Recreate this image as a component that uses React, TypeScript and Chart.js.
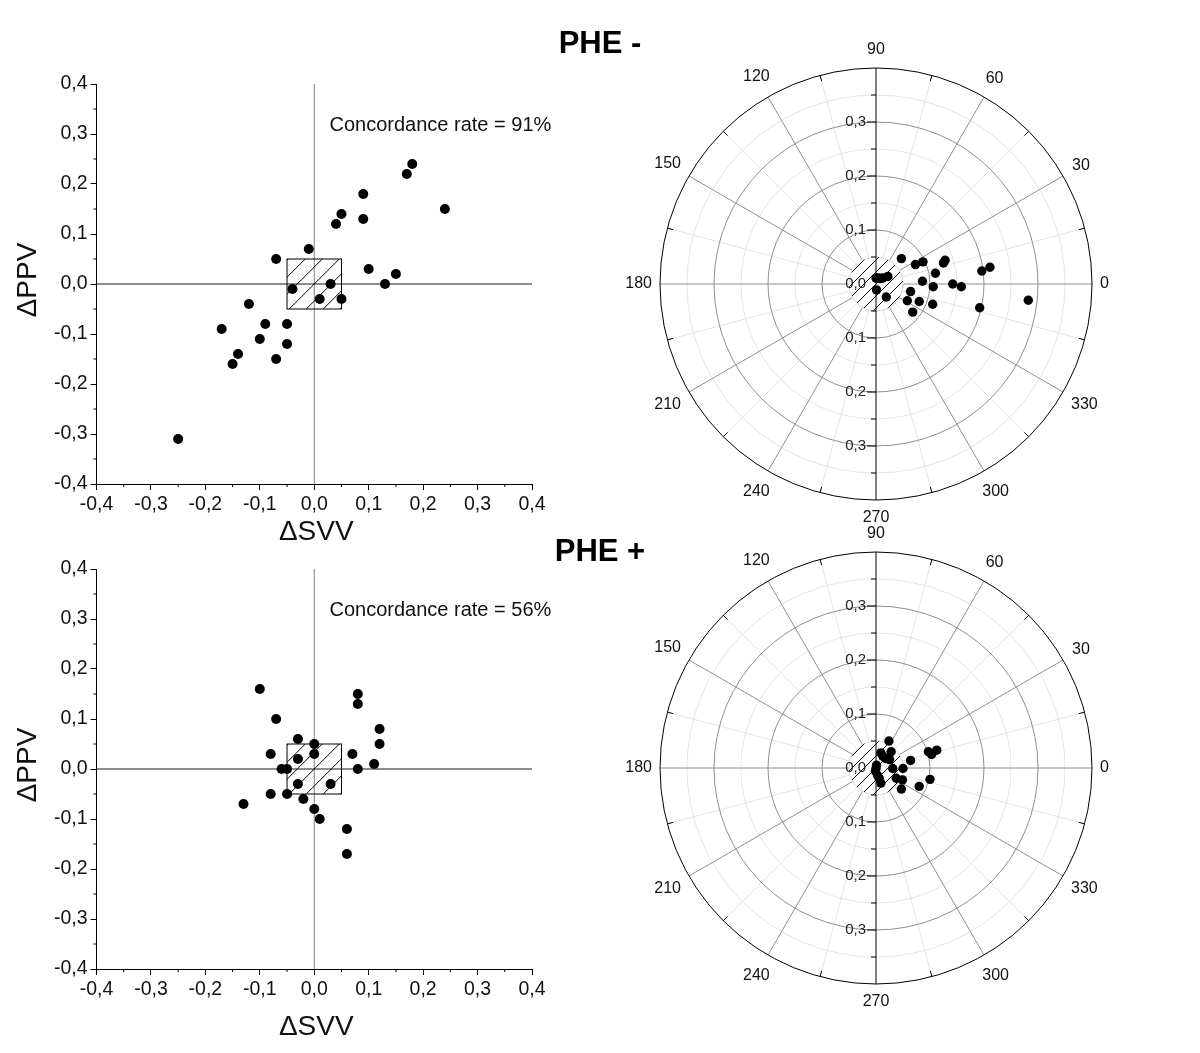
import React, { useEffect, useRef } from "react";
import { Chart, registerables } from "chart.js";

Chart.register(...registerables);

const FONT = "Arial, 'Liberation Sans', Helvetica, sans-serif";

// ---- axis ticks (quadrant plots) ----
const tickValues = [-0.4, -0.3, -0.2, -0.1, 0, 0.1, 0.2, 0.3, 0.4];
const tickLabels = ["-0,4", "-0,3", "-0,2", "-0,1", "0,0", "0,1", "0,2", "0,3", "0,4"];
const minorTickValues = [-0.35, -0.25, -0.15, -0.05, 0.05, 0.15, 0.25, 0.35];

// ---- PHE - : four-quadrant data ----
const pheMinusSVV = [0.18, 0.17, 0.24, 0.09, 0.09, 0.05, 0.04, -0.01, -0.07, 0.10, 0.15, 0.13, 0.03, -0.04, 0.01, 0.05, -0.12, -0.17, -0.09, -0.05, -0.10, -0.05, -0.14, -0.15, -0.07, -0.25];
const pheMinusPPV = [0.24, 0.22, 0.15, 0.18, 0.13, 0.14, 0.12, 0.07, 0.05, 0.03, 0.02, 0.00, 0.00, -0.01, -0.03, -0.03, -0.04, -0.09, -0.08, -0.08, -0.11, -0.12, -0.14, -0.16, -0.15, -0.31];

// ---- PHE + : four-quadrant data ----
const phePlusSVV = [-0.10, -0.07, 0.08, 0.08, 0.12, 0.12, -0.03, 0.00, -0.08, -0.03, 0.00, 0.07, 0.11, -0.06, -0.05, 0.08, -0.03, 0.03, -0.08, -0.05, -0.02, -0.13, 0.00, 0.01, 0.06, 0.06];
const phePlusPPV = [0.16, 0.10, 0.15, 0.13, 0.08, 0.05, 0.06, 0.05, 0.03, 0.02, 0.03, 0.03, 0.01, 0.00, 0.00, 0.00, -0.03, -0.03, -0.05, -0.05, -0.06, -0.07, -0.08, -0.10, -0.12, -0.17];

// ---- polar plots: points as horizontal / vertical components (radial units) ----
const polarMinusX = [0.005, 0.0125, 0.022, 0.001, 0.019, 0.047, 0.073, 0.087, 0.128, 0.125, 0.110, 0.086, 0.106, 0.142, 0.158, 0.064, 0.058, 0.080, 0.105, 0.068, 0.196, 0.211, 0.192, 0.282, 0.000, 0.008];
const polarMinusY = [0.011, 0.011, 0.014, -0.011, -0.024, 0.047, 0.036, 0.041, 0.044, 0.039, 0.020, 0.005, -0.005, 0.000, -0.005, -0.014, -0.031, -0.0325, -0.0375, -0.052, 0.024, 0.031, -0.044, -0.030, 0.011, 0.010];
const polarPlusX = [0.024, 0.009, 0.028, 0.0175, 0.025, 0.000, -0.001, 0.003, 0.006, 0.009, 0.031, 0.050, 0.0375, 0.049, 0.064, 0.047, 0.080, 0.100, 0.097, 0.1125, 0.103, 0.0125, 0.001];
const polarPlusY = [0.050, 0.028, 0.030, 0.0175, 0.0156, -0.001, -0.006, -0.014, -0.019, -0.028, -0.001, -0.001, -0.019, -0.022, 0.014, -0.039, -0.034, -0.021, 0.030, 0.033, 0.025, 0.022, 0.005];

const polarAngles = [0, 30, 60, 90, 120, 150, 180, 210, 240, 270, 300, 330];
const polarAngleLabels = ["0", "30", "60", "90", "120", "150", "180", "210", "240", "270", "300", "330"];
const polarRadialTicks = [0.1, 0.2, 0.3];
const polarRadialLabels = ["0,1", "0,2", "0,3"];

const concordanceMinus = "Concordance rate = 91%";
const concordancePlus = "Concordance rate = 56%";

function line(ctx: CanvasRenderingContext2D, x1: number, y1: number, x2: number, y2: number) {
  ctx.beginPath();
  ctx.moveTo(x1, y1);
  ctx.lineTo(x2, y2);
  ctx.stroke();
}

function tickLabelFor(v: number) {
  const i = tickValues.findIndex((t) => Math.abs(t - v) < 1e-6);
  return i >= 0 ? tickLabels[i] : "";
}

function QuadrantChart(props: { svv: number[]; ppv: number[]; text: string; top: number; titleOffset: number }) {
  const ref = useRef<HTMLCanvasElement | null>(null);
  useEffect(() => {
    if (!ref.current) return;
    const data = props.svv.map((x, i) => ({ x, y: props.ppv[i] }));
    const plugin = {
      id: "quad",
      beforeDatasetsDraw(chart: any) {
        const { ctx, chartArea: a } = chart;
        const xs = chart.scales.x;
        const ys = chart.scales.y;
        const x0 = xs.getPixelForValue(0);
        const y0 = ys.getPixelForValue(0);
        ctx.save();
        ctx.lineWidth = 1;
        ctx.strokeStyle = "#808080";
        line(ctx, x0, a.top, x0, a.bottom);
        ctx.strokeStyle = "#1a1a1a";
        line(ctx, a.left, y0, a.right, y0);
        // hatched zone
        const bx1 = xs.getPixelForValue(-0.05);
        const bx2 = xs.getPixelForValue(0.05);
        const by1 = ys.getPixelForValue(0.05);
        const by2 = ys.getPixelForValue(-0.05);
        ctx.save();
        ctx.beginPath();
        ctx.rect(bx1, by1, bx2 - bx1, by2 - by1);
        ctx.clip();
        ctx.strokeStyle = "#000";
        const cMid = (bx1 + bx2) / 2 + (by1 + by2) / 2;
        for (let k = -6; k <= 6; k++) {
          const c = cMid + k * 17;
          line(ctx, c - by2, by2, c - by1, by1);
        }
        ctx.restore();
        ctx.strokeStyle = "#000";
        ctx.strokeRect(bx1, by1, bx2 - bx1, by2 - by1);
        ctx.restore();
      },
      afterDraw(chart: any) {
        const { ctx, chartArea: a } = chart;
        const xs = chart.scales.x;
        const ys = chart.scales.y;
        ctx.save();
        ctx.strokeStyle = "#000";
        ctx.lineWidth = 1;
        minorTickValues.forEach((v) => {
          const px = xs.getPixelForValue(v);
          line(ctx, px, a.bottom, px, a.bottom + 3);
          const py = ys.getPixelForValue(v);
          line(ctx, a.left - 3, py, a.left, py);
        });
        ctx.fillStyle = "#111";
        ctx.font = `20px ${FONT}`;
        ctx.textAlign = "left";
        ctx.textBaseline = "middle";
        ctx.fillText(props.text, a.left + 233, a.top + 41);
        ctx.font = `28px ${FONT}`;
        ctx.textAlign = "center";
        ctx.fillText("\u0394SVV", (a.left + a.right) / 2 + 2, a.bottom + props.titleOffset);
        ctx.translate(28, (a.top + a.bottom) / 2 - 4);
        ctx.rotate(-Math.PI / 2);
        ctx.fillText("\u0394PPV", 0, 0);
        ctx.restore();
      },
    };
    const axisCommon = {
      type: "linear" as const,
      min: -0.4,
      max: 0.4,
      afterBuildTicks: (s: any) => {
        s.ticks = tickValues.map((v) => ({ value: v }));
      },
      ticks: {
        callback: (v: any) => tickLabelFor(Number(v)),
        font: { family: FONT, size: 19.5 },
        color: "#111",
        padding: 3,
        maxRotation: 0,
        autoSkip: false,
      },
      grid: { drawOnChartArea: false, drawTicks: true, tickLength: 6, color: "#000", tickColor: "#000" },
      border: { display: true, color: "#000", width: 1 },
    };
    const chart = new Chart(ref.current, {
      type: "scatter",
      data: {
        datasets: [
          {
            data,
            pointRadius: 5,
            pointHoverRadius: 5,
            pointBackgroundColor: "#000",
            pointBorderWidth: 0,
            showLine: false,
          },
        ],
      },
      options: {
        responsive: false,
        animation: false,
        events: [],
        layout: { padding: { left: 0, right: 38, top: 44, bottom: 0 } },
        plugins: { legend: { display: false }, tooltip: { enabled: false } },
        scales: {
          x: { ...axisCommon, afterFit: (s: any) => { s.height = 76; } },
          y: { ...axisCommon, afterFit: (s: any) => { s.width = 96.5; } },
        },
      } as any,
      plugins: [plugin],
    });
    return () => chart.destroy();
  }, []);
  return (
    <canvas
      ref={ref}
      width={570}
      height={520}
      style={{ position: "absolute", left: 0, top: props.top, width: 570, height: 520 }}
    />
  );
}

function PolarChart(props: { px: number[]; py: number[]; top: number; centerY: number }) {
  const ref = useRef<HTMLCanvasElement | null>(null);
  useEffect(() => {
    if (!ref.current) return;
    const data = props.px.map((x, i) => ({ x, y: props.py[i] }));
    const padTop = props.centerY - 216 - props.top;
    const plugin = {
      id: "polargrid",
      beforeDatasetsDraw(chart: any) {
        const { ctx } = chart;
        const xs = chart.scales.x;
        const ys = chart.scales.y;
        const cx = xs.getPixelForValue(0);
        const cy = ys.getPixelForValue(0);
        const rp = (v: number) => xs.getPixelForValue(v) - cx;
        const R = rp(0.4);
        const r0 = rp(0.05);
        const pt = (deg: number, r: number) => {
          const t = (deg * Math.PI) / 180;
          return [cx + r * Math.cos(t), cy - r * Math.sin(t)];
        };
        const circle = (r: number) => {
          ctx.beginPath();
          ctx.arc(cx, cy, r, 0, Math.PI * 2);
          ctx.stroke();
        };
        ctx.save();
        ctx.lineWidth = 1;
        // minor grid
        ctx.strokeStyle = "#e4e4e4";
        [0.15, 0.25, 0.35].forEach((v) => circle(rp(v)));
        for (let a = 15; a < 360; a += 30) {
          const [x1, y1] = pt(a, r0);
          const [x2, y2] = pt(a, R);
          line(ctx, x1, y1, x2, y2);
        }
        // major grid
        ctx.strokeStyle = "#8e8e8e";
        polarRadialTicks.forEach((v) => circle(rp(v)));
        polarAngles.forEach((a) => {
          if (a === 90 || a === 270) return;
          const [x2, y2] = pt(a, R);
          line(ctx, cx, cy, x2, y2);
        });
        // outer circle
        ctx.strokeStyle = "#000";
        circle(R);
        for (let a = 15; a < 360; a += 30) {
          const [x1, y1] = pt(a, R - 6);
          const [x2, y2] = pt(a, R);
          line(ctx, x1, y1, x2, y2);
        }
        // exclusion zone
        ctx.fillStyle = "#fff";
        ctx.beginPath();
        ctx.arc(cx, cy, r0, 0, Math.PI * 2);
        ctx.fill();
        ctx.strokeStyle = "#d6d6d6";
        circle(r0);
        ctx.save();
        ctx.beginPath();
        ctx.arc(cx, cy, r0, 0, Math.PI * 2);
        ctx.clip();
        ctx.strokeStyle = "#000";
        for (let k = -4; k <= 4; k++) {
          const c = cx + cy + k * 12;
          line(ctx, c - (cy + r0), cy + r0, c - (cy - r0), cy - r0);
        }
        ctx.restore();
        // vertical radial axis
        ctx.strokeStyle = "#000";
        line(ctx, cx, cy - R, cx, cy + R);
        [0.1, 0.2, 0.3].forEach((v) => {
          line(ctx, cx - 9, cy - rp(v), cx, cy - rp(v));
          line(ctx, cx - 9, cy + rp(v), cx, cy + rp(v));
        });
        [0.05, 0.15, 0.25, 0.35].forEach((v) => {
          line(ctx, cx - 5, cy - rp(v), cx, cy - rp(v));
          line(ctx, cx - 5, cy + rp(v), cx, cy + rp(v));
        });
        // radial labels
        ctx.fillStyle = "#222";
        ctx.font = `15px ${FONT}`;
        ctx.textAlign = "right";
        ctx.textBaseline = "middle";
        polarRadialTicks.forEach((v, i) => {
          ctx.fillText(polarRadialLabels[i], cx - 10, cy - rp(v));
          ctx.fillText(polarRadialLabels[i], cx - 10, cy + rp(v));
        });
        ctx.fillText("0,0", cx - 10, cy);
        // angle labels
        ctx.font = `16px ${FONT}`;
        ctx.textAlign = "center";
        ctx.fillStyle = "#111";
        polarAngles.forEach((a, i) => {
          const t = (a * Math.PI) / 180;
          const w = ctx.measureText(polarAngleLabels[i]).width;
          const off = R + 8 + Math.abs(Math.cos(t)) * w / 2 + Math.abs(Math.sin(t)) * 10;
          const [x, y] = pt(a, off);
          ctx.fillText(polarAngleLabels[i], x, y);
        });
        ctx.restore();
      },
    };
    const hidden = { type: "linear" as const, min: -0.4, max: 0.4, display: false };
    const chart = new Chart(ref.current, {
      type: "scatter",
      data: {
        datasets: [
          {
            data,
            pointRadius: 4.7,
            pointHoverRadius: 4.7,
            pointBackgroundColor: "#000",
            pointBorderWidth: 0,
            showLine: false,
          },
        ],
      },
      options: {
        responsive: false,
        animation: false,
        events: [],
        layout: { padding: { left: 40, right: 48, top: padTop, bottom: 520 - padTop - 432 } },
        plugins: { legend: { display: false }, tooltip: { enabled: false } },
        scales: { x: hidden, y: hidden },
      } as any,
      plugins: [plugin],
    });
    return () => chart.destroy();
  }, []);
  return (
    <canvas
      ref={ref}
      width={520}
      height={520}
      style={{ position: "absolute", left: 620, top: props.top, width: 520, height: 520 }}
    />
  );
}

export default function App() {
  const titleStyle: React.CSSProperties = {
    position: "absolute",
    left: 500,
    width: 200,
    textAlign: "center",
    fontFamily: FONT,
    fontWeight: "bold",
    fontSize: 31,
    lineHeight: "36px",
    color: "#000",
  };
  return (
    <div style={{ position: "absolute", left: 0, top: 0, width: 1200, height: 1053, background: "#fff", overflow: "hidden" }}>
      <QuadrantChart svv={pheMinusSVV} ppv={pheMinusPPV} text={concordanceMinus} top={40} titleOffset={48} />
      <QuadrantChart svv={phePlusSVV} ppv={phePlusPPV} text={concordancePlus} top={525} titleOffset={58} />
      <PolarChart px={polarMinusX} py={polarMinusY} top={30} centerY={284} />
      <PolarChart px={polarPlusX} py={polarPlusY} top={515} centerY={768} />
      <div style={{ ...titleStyle, top: 25 }}>PHE -</div>
      <div style={{ ...titleStyle, top: 533 }}>PHE +</div>
    </div>
  );
}
